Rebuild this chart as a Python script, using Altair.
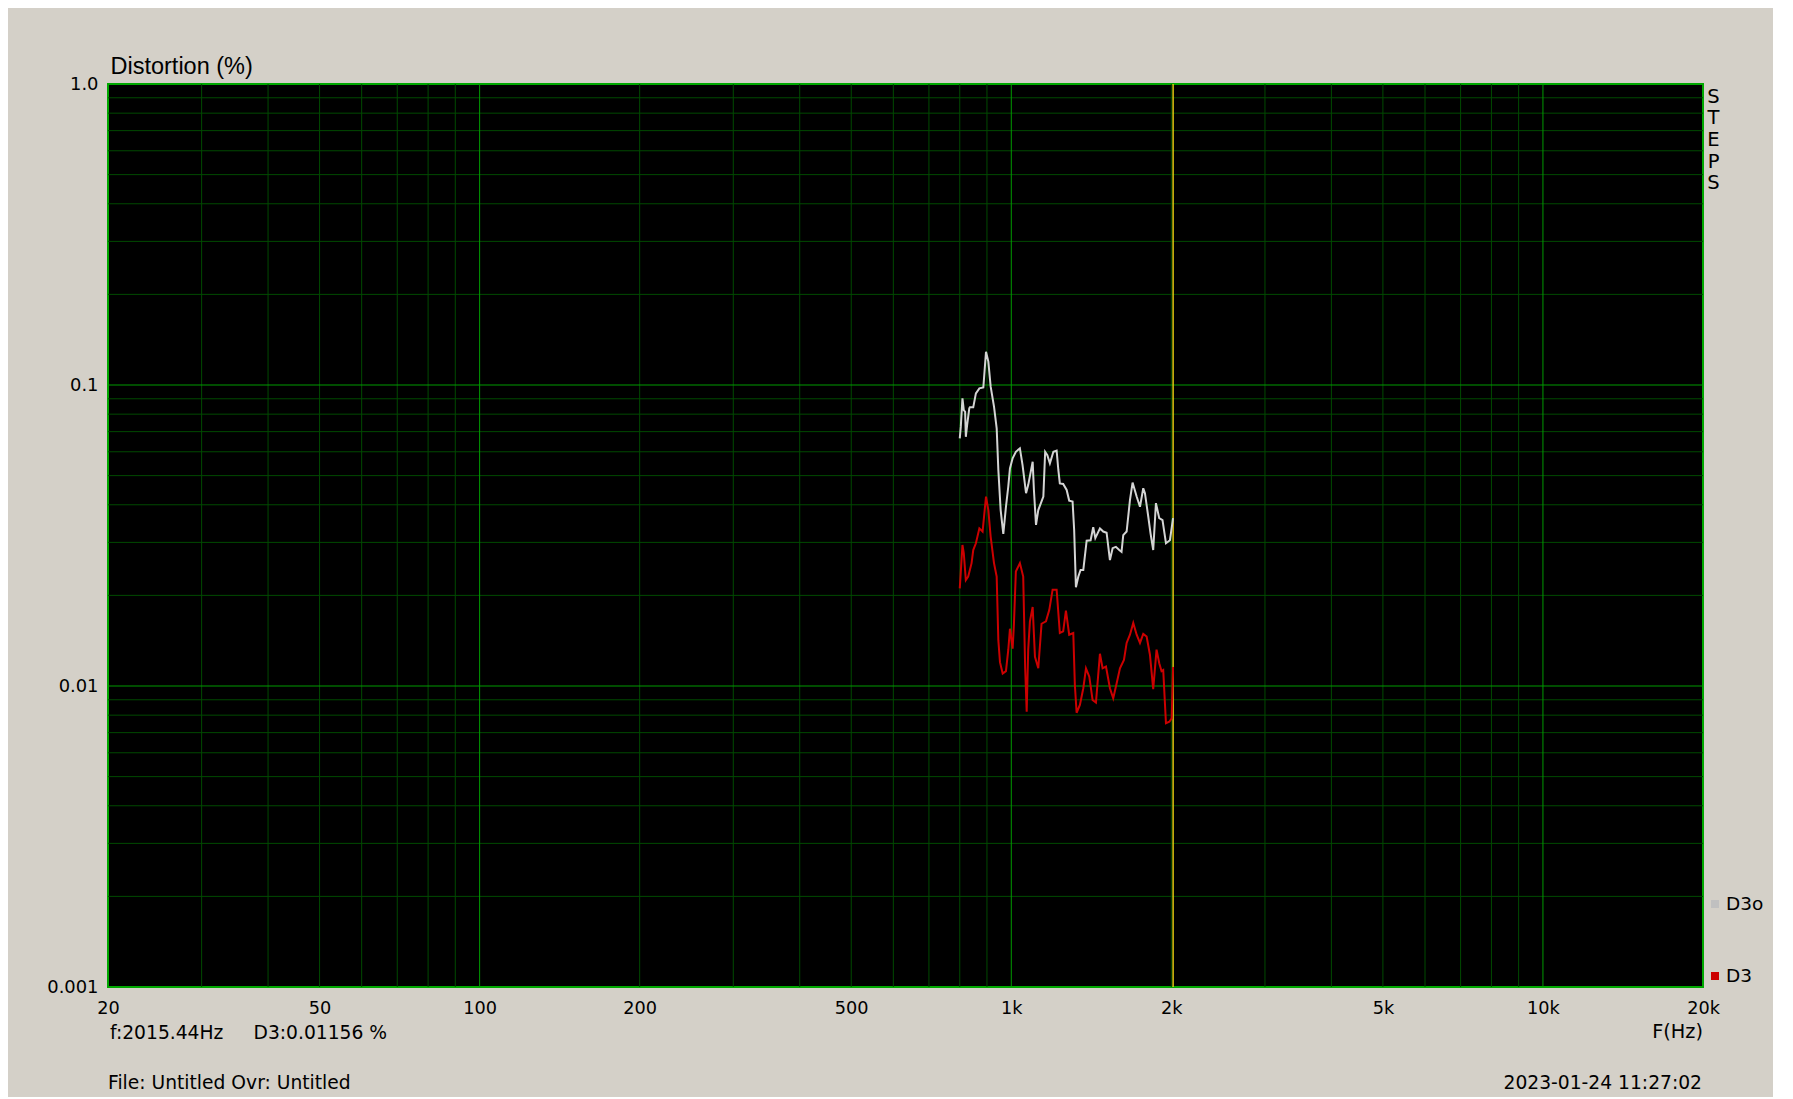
import altair as alt
import pandas as pd

# ---- data ----
d3o_freq = [800, 803.6, 809.4, 814.1, 818.8, 821.3, 826.0, 833.7, 835.9, 848.1, 857.9, 870.9, 886,
            896.3, 905.4, 914.6, 927.9, 938.7, 945.5, 955, 966, 977.2, 987.1, 994.2, 1005.8, 1020,
            1038, 1050, 1066, 1076, 1097, 1103, 1113, 1124, 1149, 1158, 1169, 1182, 1200, 1217,
            1226, 1234, 1252, 1271, 1285, 1304, 1313, 1323, 1337, 1350, 1366, 1386, 1410, 1426,
            1439, 1468, 1489, 1511, 1533, 1551, 1573, 1596, 1612, 1624, 1648, 1672, 1691, 1721,
            1746, 1771, 1784, 1810, 1828, 1849, 1871, 1898, 1925, 1954, 1988, 2015]
d3o_val = [0.0665, 0.0727, 0.0903, 0.0826, 0.0815, 0.0673, 0.0737, 0.0837, 0.0843, 0.0843, 0.0938,
           0.0975, 0.0982, 0.129, 0.1196, 0.0987, 0.0847, 0.0718, 0.0522, 0.0384, 0.0320, 0.0394,
           0.0460, 0.0528, 0.0571, 0.0600, 0.0616, 0.0542, 0.0437, 0.0465, 0.0556, 0.0448, 0.0343,
           0.0384, 0.0426, 0.0600, 0.0585, 0.0549, 0.0600, 0.0605, 0.0522, 0.0471, 0.0469, 0.0448,
           0.0413, 0.0410, 0.0330, 0.0213, 0.0231, 0.0243, 0.0243, 0.0304, 0.0305, 0.0337, 0.0310,
           0.0334, 0.0326, 0.0323, 0.0262, 0.0287, 0.0290, 0.0283, 0.0279, 0.0317, 0.0326, 0.0415,
           0.0474, 0.0426, 0.0394, 0.0454, 0.0437, 0.0365, 0.0321, 0.0283, 0.0405, 0.0361, 0.0356,
           0.0298, 0.0305, 0.0361]

d3_freq = [800, 809.4, 814.1, 821.3, 829.8, 842, 848.1, 857.9, 870.9, 883.1, 896.3, 905.4, 914.6,
           927.9, 938.7, 945.5, 952.2, 963.4, 977.2, 987.1, 994.2, 1005.8, 1011.6, 1020, 1038, 1053,
           1062, 1069, 1076, 1084, 1097, 1108, 1124, 1140, 1162, 1179, 1196, 1217, 1234, 1252, 1267,
           1285, 1308, 1317, 1327, 1346, 1366, 1382, 1402, 1422, 1443, 1468, 1485, 1507, 1533, 1555,
           1578, 1601, 1629, 1648, 1672, 1696, 1721, 1746, 1771, 1797, 1823, 1849, 1876, 1898, 1917,
           1931, 1954, 1983, 2003, 2015]
d3_val = [0.0211, 0.0294, 0.0276, 0.0225, 0.0231, 0.0256, 0.0283, 0.0298, 0.0334, 0.0326, 0.0426,
          0.0384, 0.0313, 0.0256, 0.0231, 0.0142, 0.0120, 0.0110, 0.0112, 0.0132, 0.0155, 0.0133,
          0.0161, 0.0240, 0.0256, 0.0231, 0.01145, 0.00822, 0.0132, 0.0164, 0.0183, 0.0125, 0.01145,
          0.0161, 0.0164, 0.0179, 0.0209, 0.0209, 0.0150, 0.0152, 0.0178, 0.0148, 0.0150, 0.01008,
          0.00815, 0.00865, 0.00983, 0.01145, 0.01074, 0.00899, 0.00881, 0.0128, 0.01145, 0.0116,
          0.00983, 0.0091, 0.0102, 0.01145, 0.0122, 0.0139, 0.0148, 0.0162, 0.0148, 0.0139, 0.0149,
          0.0146, 0.0127, 0.00977, 0.0132, 0.0119, 0.0112, 0.0113, 0.00752, 0.00761, 0.00781, 0.01156]

x_ticks = [20, 50, 100, 200, 500, 1000, 2000, 5000, 10000, 20000]
y_ticks = [0.001, 0.01, 0.1, 1]
x_minor = [30, 40, 50, 60, 70, 80, 90, 200, 300, 400, 500, 600, 700, 800, 900,
           2000, 3000, 4000, 5000, 6000, 7000, 8000, 9000]
x_major = [100, 1000, 10000]
y_minor = [0.002, 0.003, 0.004, 0.005, 0.006, 0.007, 0.008, 0.009,
           0.02, 0.03, 0.04, 0.05, 0.06, 0.07, 0.08, 0.09,
           0.2, 0.3, 0.4, 0.5, 0.6, 0.7, 0.8, 0.9]
y_major = [0.01, 0.1]
cursor_freq = [2015.44]

TFONT = "Liberation Sans"
FONT = "DejaVu Sans"
MAJOR = "#009a00"
MINOR = "#004a00"

xs = alt.Scale(type="log", domain=[20, 20000], nice=False)
ys = alt.Scale(type="log", domain=[0.001, 1], nice=False)

x_axis = alt.Axis(values=x_ticks, grid=False, ticks=False, domain=False,
                  labelExpr="datum.value >= 1000 ? (datum.value/1000) + 'k' : datum.value + ''",
                  labelFont=FONT, labelFontSize=17.7, labelColor="black", labelPadding=12,
                  labelFlush=False, labelOverlap=False, labelBound=False, title=None)
y_axis = alt.Axis(values=y_ticks, grid=False, ticks=False, domain=False,
                  labelExpr="datum.value == 1 ? '1.0' : toString(datum.value)",
                  labelFont=FONT, labelFontSize=17.9, labelColor="black", labelPadding=10,
                  labelFlush=False, labelOverlap=False, labelBound=False, title=None)

def vrules(vals, color):
    return alt.Chart(pd.DataFrame({"f": vals})).mark_rule(color=color, strokeWidth=1).encode(
        x=alt.X("f:Q", scale=xs, axis=x_axis))

def hrules(vals, color):
    return alt.Chart(pd.DataFrame({"v": vals})).mark_rule(color=color, strokeWidth=1).encode(
        y=alt.Y("v:Q", scale=ys, axis=y_axis))

grid = vrules(x_minor, MINOR) + hrules(y_minor, MINOR) + vrules(x_major, MAJOR) + hrules(y_major, MAJOR)

cursor = alt.Chart(pd.DataFrame({"f": cursor_freq})).mark_rule(color="#e0c810", strokeWidth=1.5).encode(
    x=alt.X("f:Q", scale=xs, axis=x_axis))

d3o = alt.Chart(pd.DataFrame({"f": d3o_freq, "v": d3o_val})).mark_line(
    color="#d4d4d4", strokeWidth=2).encode(
    x=alt.X("f:Q", scale=xs, axis=x_axis), y=alt.Y("v:Q", scale=ys, axis=y_axis))
d3 = alt.Chart(pd.DataFrame({"f": d3_freq, "v": d3_val})).mark_line(
    color="#cc0000", strokeWidth=2).encode(
    x=alt.X("f:Q", scale=xs, axis=x_axis), y=alt.Y("v:Q", scale=ys, axis=y_axis))

base = alt.Chart(pd.DataFrame({"a": [0]}))

def txt(text, x, y, size=18.7, align="left", font=FONT):
    return base.mark_text(text=text, align=align, baseline="alphabetic", font=font,
                          fontSize=size, color="black").encode(
        x=alt.value(x), y=alt.value(y))

texts = (
    txt("Distortion (%)", 2.5, -10.5, size=23.5, font=TFONT)
    + base.mark_text(text="S\nT\nE\nP\nS", lineBreak="\n", lineHeight=21.7, align="center",
                     baseline="alphabetic", font=FONT, fontSize=19.5, color="black").encode(
        x=alt.value(1605.5), y=alt.value(18.7))
    + txt("F(Hz)", 1595, 954, size=19.3, align="right")
    + txt("f:2015.44Hz", 2, 955)
    + txt("D3:0.01156 %", 145.5, 955)
    + txt("File: Untitled Ovr: Untitled", 0, 1005)
    + txt("2023-01-24 11:27:02", 1594, 1005, align="right")
    + txt("D3o", 1618, 826, size=18.5)
    + txt("D3", 1618, 897.7, size=18.5)
    + base.mark_square(color="#c0c0c0", size=64, opacity=1).encode(x=alt.value(1607), y=alt.value(820))
    + base.mark_square(color="#cc0000", size=64, opacity=1).encode(x=alt.value(1607), y=alt.value(892))
)

chart = (grid + cursor + d3o + d3 + texts).properties(
    width=1595, height=903,
    padding={"left": 100, "top": 76, "right": 70, "bottom": 110},
    autosize="none",
).configure(background="#d4d0c8").configure_view(
    fill="black", stroke="#00a800", strokeWidth=2
)

chart.save("out.html", embed_options={"renderer": "svg", "actions": False})
